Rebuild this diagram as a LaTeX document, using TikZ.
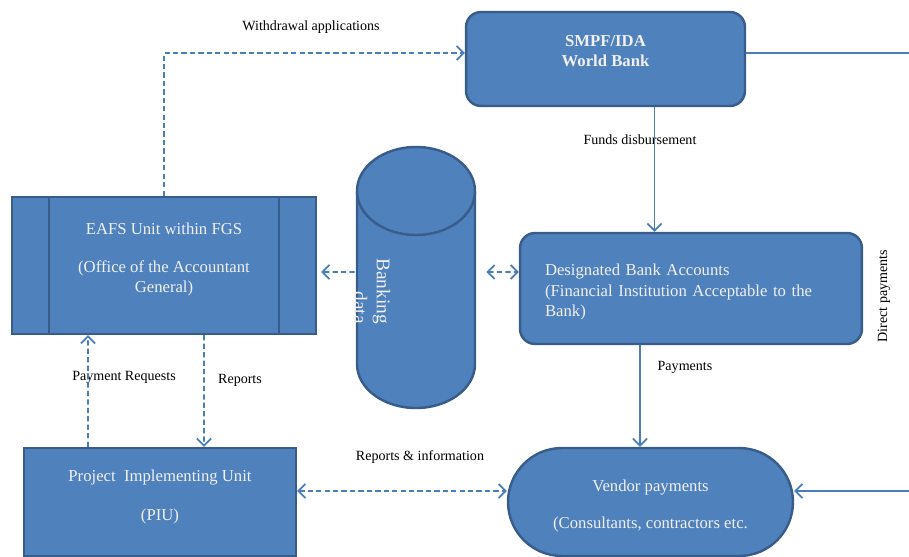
\documentclass[tikz,border=0pt]{standalone}
\usepackage{fontspec}
\setmainfont{Liberation Serif}
\usetikzlibrary{arrows.meta,shapes.misc}

\definecolor{boxfill}{HTML}{4F81BD}
\definecolor{boxline}{HTML}{385D8A}
\definecolor{linkblue}{HTML}{4A7EBB}

\tikzset{
  boxtext/.style={text=white!94!black, font=\fontsize{9.5}{11.5}\selectfont, align=center},
  boxedge/.style={draw=boxline, line width=1.4pt},
  box/.style={boxtext, boxedge, fill=boxfill, inner sep=0pt},
  rbox/.style={box, rounded corners=0.3cm},
  lab/.style={font=\fontsize{8}{10}\selectfont, inner sep=1pt},
  link/.style={draw=linkblue, line width=1pt, -{Straight Barb[length=4pt,width=8pt]}},
  dlink/.style={link, dash pattern=on 3pt off 1.8pt},
  dboth/.style={dlink, {Straight Barb[length=4pt,width=8pt]}-{Straight Barb[length=4pt,width=8pt]}},
}

\begin{document}
\begin{tikzpicture}[x=0.02cm,y=-0.02cm]
  \useasboundingbox (0,0) rectangle (909,557);
  \clip (0,0) rectangle (909,557);

  % boxes
  \node[rbox, minimum width=5.58cm, minimum height=1.88cm,
        label={[boxtext, font=\fontsize{9.5}{11.5}\selectfont\bfseries, yshift=0.16cm]center:SMPF/IDA\\World Bank}]
        (smpf) at (605.5,59) {};
  \node[rbox, minimum width=6.84cm, minimum height=2.22cm,
        label={[boxtext, text width=5.84cm, align=left, yshift=-0.07cm]center:Designated Bank Accounts\\(Financial Institution Acceptable to the\\Bank)}]
        (dba) at (691,288.5) {};

  % banking data cylinder
  \node[minimum width=2.36cm, minimum height=5.22cm, inner sep=0pt] (bank) at (416,277.5) {};
  \draw[boxedge, fill=boxfill] (357,191) -- (357,364) arc (180:0:59 and 44) -- (475,191) arc (0:-180:59 and 44) -- cycle;
  \draw[boxedge] (357,191) arc (180:0:59 and 44);
  \node[boxtext, font=\fontsize{11}{13}\selectfont, rotate=-90, align=right] (bankdata) at (372,291) {Banking\\data};

  \node[box, minimum width=6.08cm, minimum height=2.74cm,
        label={[boxtext, yshift=0.12cm]center:EAFS Unit within FGS\\[10.5pt](Office of the Accountant\\General)}]
        (eafs) at (164,265.5) {};
  \draw[boxedge] ([xshift=0.76cm]eafs.north west) -- ([xshift=0.76cm]eafs.south west);
  \draw[boxedge] ([xshift=-0.76cm]eafs.north east) -- ([xshift=-0.76cm]eafs.south east);
  \node[box, minimum width=5.44cm, minimum height=2.16cm,
        label={[boxtext, yshift=0.10cm]center:Project\ \ Implementing Unit\\[10.5pt](PIU)}]
        (piu) at (160,502) {};
  \node[box, shape=rounded rectangle, minimum width=5.7cm, minimum height=2.16cm,
        label={[boxtext, yshift=-0.08cm]center:Vendor payments\\[9.5pt](Consultants, contractors etc.}]
        (vendor) at (650.5,502) {};

  % labels
  \node[lab] (withdrawal) at (311,27) {Withdrawal applications};
  \node[lab] (funds) at (640,140) {Funds disbursement};
  \node[lab] (payments) at (685,367) {Payments};
  \node[lab, rotate=90] (direct) at (884,296) {Direct payments};
  \node[lab] (payreq) at (124,377) {Payment Requests};
  \node[lab] (reports) at (240,380) {Reports};
  \node[lab] (repinfo) at (420,457) {Reports \& information};

  % connectors
  \coordinate (outside) at (930,270);
  \draw[dlink] (eafs.north) |- ([yshift=0.12cm]smpf.west);
  \draw[link] ([xshift=0.98cm]smpf.south) -- ([xshift=0.98cm]smpf.south |- dba.north);
  \draw[link] ([yshift=0.12cm]smpf.east) -| (outside) |- ([yshift=0.22cm]vendor.east);
  \draw[dboth] ([shift={(11,-5.5)}]bank.east) -- ([yshift=0.33cm]dba.west);
  \draw[dlink] ([shift={(-2,-5.5)}]bank.west) -- ([shift={(4,6.5)}]eafs.east);
  \draw[dlink] ([xshift=-1.44cm]piu.north) -- ([xshift=-1.52cm]eafs.south);
  \draw[dlink] ([xshift=0.8cm]eafs.south) -- ([xshift=0.88cm]piu.north);
  \draw[dboth] ([yshift=0.22cm]piu.east) -- ([yshift=0.22cm]vendor.west);
  \draw[link] ([xshift=-1.02cm]dba.south) -- ([xshift=-0.21cm]vendor.north);
\end{tikzpicture}
\end{document}
